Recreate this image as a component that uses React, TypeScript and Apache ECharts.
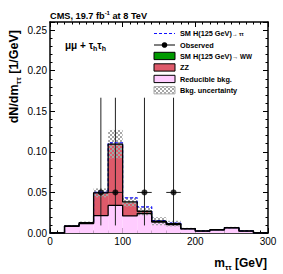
import { useEffect, useRef } from "react";
import * as echarts from "echarts";

// ---- data ----
const binEdges = [0, 20, 40, 60, 80, 100, 120, 140, 160, 180, 200, 220, 240, 260, 280, 300];
const reducible = [0, 0.0083, 0.0115, 0.0215, 0.034, 0.021, 0.024, 0.0135, 0.0105, 0.005, 0.0023, 0.0038, 0.0063, 0.0023, 0];
const zz = [0, 0.0003, 0.0012, 0.0278, 0.0752, 0.0169, 0.0025, 0.0008, 0.001, 0.0004, 0.0002, 0.0002, 0.0003, 0.0002, 0];
const hww = [0, 0, 0, 0.0002, 0.0003, 0.0004, 0.0003, 0.0002, 0.0001, 0, 0, 0, 0, 0, 0];
const htt = [0, 0, 0, 0.0005, 0.0015, 0.005, 0.0055, 0.0008, 0.0005, 0, 0, 0, 0, 0, 0];
const bkgUnc = [0, 0.001, 0.0015, 0.0055, 0.0175, 0.0055, 0.005, 0.005, 0.0035, 0.001, 0.0008, 0.0008, 0.001, 0.0008, 0];
const obsMass = [70, 90, 130, 170];
const obsValue = [0.05, 0.05, 0.05, 0.05];
const obsLow = [0.0093, 0.0093, 0.0093, 0.0093];
const obsHigh = [0.1667, 0.1667, 0.1667, 0.1667];
const obsHalfWidth = [10, 10, 10, 10];

const FONT = "'Liberation Sans', Arial, Helvetica, sans-serif";
const PINK = "#ffccff";
const RED = "#de5a6a";
const GREEN = "#009a00";
const BLUE = "#1010ff";

export default function App() {
  const ref = useRef<HTMLDivElement>(null);

  useEffect(() => {
    if (!ref.current) return;
    const chart = echarts.init(ref.current, undefined, { renderer: "svg" });

    const cv = document.createElement("canvas");
    cv.width = 4;
    cv.height = 4;
    const ctx = cv.getContext("2d")!;
    ctx.fillStyle = "#a6a6a6";
    ctx.fillRect(0, 0, 2, 2);
    ctx.fillRect(2, 2, 2, 2);
    const hatch: any = { image: cv, repeat: "repeat" };

    const nb = reducible.length;
    const lvl1 = reducible.slice();
    const lvl2 = lvl1.map((v, i) => v + zz[i]);
    const lvl3 = lvl2.map((v, i) => v + hww[i]);
    const lvl4 = lvl3.map((v, i) => v + htt[i]);

    const rects = (lo: number[], hi: number[]) =>
      Array.from({ length: nb }, (_, i) => [binEdges[i], binEdges[i + 1], lo[i], hi[i]]);
    const zeros = new Array(nb).fill(0);

    const rectRender = (fill: any) => (params: any, api: any) => {
      const a = api.coord([api.value(0), api.value(3)]);
      const b = api.coord([api.value(1), api.value(2)]);
      const h = b[1] - a[1];
      if (h <= 0) return null;
      return {
        type: "rect",
        shape: { x: a[0], y: a[1], width: b[0] - a[0], height: h },
        style: { fill, stroke: null },
      };
    };

    const steps = (lv: number[]) =>
      binEdges.map((e, i) => [e, i < nb ? lv[i] : lv[nb - 1]]);

    const fillSeries = (name: string, lo: number[], hi: number[], fill: any) => ({
      type: "custom",
      name,
      renderItem: rectRender(fill),
      data: rects(lo, hi),
      encode: { x: [0, 1], y: [2, 3] },
      silent: true,
      clip: true,
    });

    const stepSeries = (lv: number[], color: string, width: number, type: any) => ({
      type: "line",
      step: "end",
      data: steps(lv),
      symbol: "none",
      lineStyle: { color, width, type },
      silent: true,
    });

    const axisCommon = {
      type: "value",
      axisLine: { show: true, onZero: false, lineStyle: { color: "#000", width: 1.5 } },
      splitLine: { show: false },
      minorSplitLine: { show: false },
    };

    const option: any = {
      animation: false,
      grid: { left: 50, top: 22, right: 15, bottom: 41 },
      xAxis: [
        {
          ...axisCommon,
          min: 0,
          max: 300,
          interval: 100,
          position: "bottom",
          axisTick: { inside: true, length: 5, lineStyle: { color: "#000", width: 1 } },
          minorTick: { show: true, splitNumber: 10, length: 2.5, lineStyle: { color: "#000", width: 1 } },
          axisLabel: { color: "#000", fontSize: 10, fontFamily: FONT, margin: 3 },
        },
        {
          ...axisCommon,
          min: 0,
          max: 300,
          interval: 100,
          position: "top",
          axisTick: { inside: true, length: 5, lineStyle: { color: "#000", width: 1 } },
          minorTick: { show: true, splitNumber: 10, length: 2.5, lineStyle: { color: "#000", width: 1 } },
          axisLabel: { show: false },
        },
      ],
      yAxis: [
        {
          ...axisCommon,
          min: 0,
          max: 0.26,
          interval: 0.05,
          position: "left",
          axisTick: { inside: true, length: 5, lineStyle: { color: "#000", width: 1 } },
          minorTick: { show: true, splitNumber: 5, length: 2.5, lineStyle: { color: "#000", width: 1 } },
          axisLabel: {
            color: "#000",
            fontSize: 10,
            fontFamily: FONT,
            margin: 3,
            showMaxLabel: false,
            formatter: (v: number) => v.toFixed(2),
          },
        },
        {
          ...axisCommon,
          min: 0,
          max: 0.26,
          interval: 0.05,
          position: "right",
          axisTick: { inside: true, length: 5, lineStyle: { color: "#000", width: 1 } },
          minorTick: { show: true, splitNumber: 5, length: 2.5, lineStyle: { color: "#000", width: 1 } },
          axisLabel: { show: false },
        },
      ],
      series: [
        fillSeries("Reducible bkg.", zeros, lvl1, PINK),
        fillSeries("ZZ", lvl1, lvl2, RED),
        fillSeries("SM H(125 GeV) → WW", lvl2, lvl3, GREEN),
        stepSeries(lvl4, BLUE, 1.2, [3, 2]),
        fillSeries(
          "Bkg. uncertainty",
          lvl3.map((v, i) => v - bkgUnc[i]),
          lvl3.map((v, i) => v + bkgUnc[i]),
          hatch
        ),
        stepSeries(lvl1, "#000", 1.3, "solid"),
        stepSeries(lvl3, "#000", 1.3, "solid"),
        {
          type: "custom",
          name: "Observed errors",
          renderItem: (params: any, api: any) => {
            const x = api.value(0);
            const y = api.value(1);
            const lo = api.value(2);
            const hi = api.value(3);
            const hw = api.value(4);
            const pLo = api.coord([x, lo]);
            const pHi = api.coord([x, hi]);
            const pL = api.coord([x - hw, y]);
            const pR = api.coord([x + hw, y]);
            const st = { stroke: "#222", lineWidth: 1 };
            return {
              type: "group",
              children: [
                { type: "line", shape: { x1: pLo[0], y1: pLo[1], x2: pHi[0], y2: pHi[1] }, style: st },
                { type: "line", shape: { x1: pL[0], y1: pL[1], x2: pR[0], y2: pR[1] }, style: st },
              ],
            };
          },
          data: obsMass.map((m, i) => [m, obsValue[i], obsLow[i], obsHigh[i], obsHalfWidth[i]]),
          encode: { x: 0, y: 1 },
          silent: true,
        },
        {
          type: "scatter",
          name: "Observed",
          data: obsMass.map((m, i) => [m, obsValue[i]]),
          symbol: "circle",
          symbolSize: 6,
          itemStyle: { color: "#000" },
          silent: true,
        },
      ],
      graphic: [
        {
          type: "text",
          x: 50,
          y: 15.5,
          style: {
            text: "{a|CMS, 19.7 fb}{s|-1}{a| at 8 TeV}",
            verticalAlign: "middle",
            rich: {
              a: { fontSize: 9.2, fontWeight: "bold", fontFamily: FONT, fill: "#000", lineHeight: 12 },
              s: { fontSize: 6, fontWeight: "bold", fontFamily: FONT, fill: "#000", lineHeight: 12, verticalAlign: "top" },
            },
          },
        },
        {
          type: "text",
          x: 65,
          y: 45,
          style: {
            text: "{a|μμ + τ}{b|h}{a|τ}{b|h}",
            verticalAlign: "middle",
            rich: {
              a: { fontSize: 10, fontWeight: "bold", fontFamily: FONT, fill: "#000", lineHeight: 14 },
              b: { fontSize: 7, fontWeight: "bold", fontFamily: FONT, fill: "#000", lineHeight: 14, verticalAlign: "bottom" },
            },
          },
        },
        {
          type: "text",
          x: 14,
          y: 30,
          rotation: Math.PI / 2,
          style: {
            text: "{a|dN/dm}{b|ττ}{a| [1/GeV]}",
            align: "right",
            verticalAlign: "middle",
            rich: {
              a: { fontSize: 12.5, fontWeight: "bold", fontFamily: FONT, fill: "#000", lineHeight: 16 },
              b: { fontSize: 8, fontWeight: "bold", fontFamily: FONT, fill: "#000", lineHeight: 16, verticalAlign: "bottom" },
            },
          },
        },
        {
          type: "text",
          x: 267,
          y: 263,
          style: {
            text: "{a|m}{b|ττ}{a| [GeV]}",
            align: "right",
            verticalAlign: "middle",
            rich: {
              a: { fontSize: 12, fontWeight: "bold", fontFamily: FONT, fill: "#000", lineHeight: 16 },
              b: { fontSize: 7.5, fontWeight: "bold", fontFamily: FONT, fill: "#000", lineHeight: 16, verticalAlign: "bottom" },
            },
          },
        },
        // legend
        {
          type: "line",
          shape: { x1: 154, y1: 33.5, x2: 175, y2: 33.5 },
          style: { stroke: BLUE, lineWidth: 1, lineDash: [3, 2] },
        },
        {
          type: "text",
          x: 180,
          y: 33.5,
          style: {
            text: "{a|SM H(125 GeV)}{b|→ ττ}",
            verticalAlign: "middle",
            rich: {
              a: { fontSize: 7.3, fontWeight: "bold", fontFamily: FONT, fill: "#000" },
              b: { fontSize: 5.5, fontWeight: "bold", fontFamily: FONT, fill: "#000" },
            },
          },
        },
        {
          type: "line",
          shape: { x1: 154, y1: 45, x2: 175, y2: 45 },
          style: { stroke: "#000", lineWidth: 1 },
        },
        { type: "circle", shape: { cx: 164.5, cy: 45, r: 2.8 }, style: { fill: "#000" } },
        {
          type: "text",
          x: 180,
          y: 45,
          style: { text: "Observed", verticalAlign: "middle", fontSize: 7.3, fontWeight: "bold", fontFamily: FONT, fill: "#000" },
        },
        { type: "rect", shape: { x: 154, y: 52.3, width: 21, height: 7.3 }, style: { fill: GREEN, stroke: "#000", lineWidth: 1 } },
        {
          type: "text",
          x: 180,
          y: 56,
          style: {
            text: "{a|SM H(125 GeV)}{b|→ WW}",
            verticalAlign: "middle",
            rich: {
              a: { fontSize: 7.3, fontWeight: "bold", fontFamily: FONT, fill: "#000" },
              b: { fontSize: 6.3, fontWeight: "bold", fontFamily: FONT, fill: "#000" },
            },
          },
        },
        { type: "rect", shape: { x: 154, y: 63.8, width: 21, height: 7.3 }, style: { fill: RED, stroke: "#000", lineWidth: 1 } },
        {
          type: "text",
          x: 180,
          y: 67.5,
          style: { text: "ZZ", verticalAlign: "middle", fontSize: 7.3, fontWeight: "bold", fontFamily: FONT, fill: "#000" },
        },
        { type: "rect", shape: { x: 154, y: 75.3, width: 21, height: 7.3 }, style: { fill: PINK, stroke: "#000", lineWidth: 1 } },
        {
          type: "text",
          x: 180,
          y: 79,
          style: { text: "Reducible bkg.", verticalAlign: "middle", fontSize: 7.3, fontWeight: "bold", fontFamily: FONT, fill: "#000" },
        },
        { type: "rect", shape: { x: 154, y: 86.6, width: 21, height: 7.3 }, style: { fill: hatch, stroke: "#aaa", lineWidth: 1 } },
        {
          type: "text",
          x: 180,
          y: 90.3,
          style: { text: "Bkg. uncertainty", verticalAlign: "middle", fontSize: 7.3, fontWeight: "bold", fontFamily: FONT, fill: "#000" },
        },
      ],
    };

    chart.setOption(option);
    return () => chart.dispose();
  }, []);

  return (
    <div
      ref={ref}
      style={{ position: "fixed", left: 0, top: 0, width: 283, height: 274, background: "#fff" }}
    />
  );
}
